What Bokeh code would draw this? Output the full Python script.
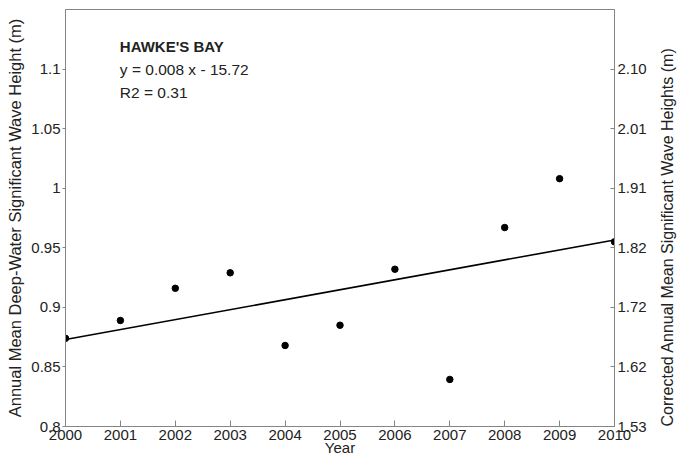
import numpy as np
from bokeh.plotting import figure
from bokeh.models import Range1d, LinearAxis, FixedTicker, Label, ColumnDataSource
from bokeh.embed import file_html
from bokeh.resources import INLINE

# ---- data ----
years = [2000, 2001, 2002, 2003, 2004, 2005, 2006, 2007, 2008, 2009, 2010]
wave_height = [0.874, 0.889, 0.916, 0.929, 0.868, 0.885, 0.932, 0.8395, 0.967, 1.008, 0.955]
left_ticks = [0.8, 0.85, 0.9, 0.95, 1.0, 1.05, 1.1]
right_tick_labels = ["1.53", "1.62", "1.72", "1.82", "1.91", "2.01", "2.10"]
x_ticks = years
title_text = "HAWKE'S BAY"
eq_text = "y = 0.008 x - 15.72"
r2_text = "R2 = 0.31"
x_label = "Year"
left_label = "Annual Mean Deep-Water Significant Wave Height (m)"
right_label = "Corrected Annual Mean Significant Wave Heights (m)"

FONT = "Liberation Sans"
AX = "#858585"
TXT = "#222222"
FS = "15px"
FW, FH = 549, 417

slope, intercept = np.polyfit(years, wave_height, 1)
fit_x = [years[0], years[-1]]
fit_y = [slope * v + intercept for v in fit_x]

p = figure(frame_width=FW, frame_height=FH, output_backend="svg", toolbar_location=None,
           x_range=Range1d(2000, 2010), y_range=Range1d(0.8, 1.15),
           min_border_left=65, min_border_right=10, min_border_top=9, min_border_bottom=10)
p.grid.visible = False
p.outline_line_color = AX
p.outline_line_width = 1
p.background_fill_color = "white"
p.border_fill_color = "white"

# x axis
xa = p.xaxis[0]
xa.ticker = FixedTicker(ticks=x_ticks)
xa.major_tick_in = 6
xa.major_tick_out = 0
xa.minor_tick_line_color = None
xa.axis_line_color = AX
xa.major_tick_line_color = AX
xa.major_label_text_font = FONT
xa.major_label_text_font_size = FS
xa.major_label_text_color = TXT
xa.major_label_standoff = 3
xa.axis_label = x_label
xa.axis_label_text_font = FONT
xa.axis_label_text_font_size = FS
xa.axis_label_text_font_style = "normal"
xa.axis_label_text_color = TXT
xa.axis_label_standoff = -4

# left y axis
ya = p.yaxis[0]
ya.ticker = FixedTicker(ticks=left_ticks)
ya.major_tick_in = 0
ya.major_tick_out = 3
ya.minor_tick_line_color = None
ya.axis_line_color = AX
ya.major_tick_line_color = AX
ya.major_label_text_font = FONT
ya.major_label_text_font_size = FS
ya.major_label_text_color = TXT
ya.major_label_standoff = 2
ya.axis_label = left_label
ya.axis_label_text_font = FONT
ya.axis_label_text_font_size = "16.5px"
ya.axis_label_text_font_style = "normal"
ya.axis_label_text_color = TXT
ya.axis_label_standoff = 4

# right y axis
ra = LinearAxis(ticker=FixedTicker(ticks=left_ticks),
                major_label_overrides={t: l for t, l in zip(left_ticks, right_tick_labels)})
ra.major_tick_in = 4
ra.major_tick_out = 0
ra.minor_tick_line_color = None
ra.axis_line_color = AX
ra.major_tick_line_color = AX
ra.major_label_text_font = FONT
ra.major_label_text_font_size = FS
ra.major_label_text_color = TXT
ra.major_label_standoff = 3
ra.axis_label = right_label
ra.axis_label_orientation = np.pi / 2
ra.axis_label_text_font = FONT
ra.axis_label_text_font_size = "16px"
ra.axis_label_text_font_style = "normal"
ra.axis_label_text_color = TXT
ra.axis_label_standoff = 18
if "axis_label_align" in ra.properties():
    ra.axis_label_align = "start"
p.add_layout(ra, "right")

# fit line and points
p.line(fit_x, fit_y, line_color="black", line_width=1.6)
src = ColumnDataSource(dict(x=years, y=wave_height))
p.scatter("x", "y", source=src, size=6.5, fill_color="black", line_color="black")

# annotations
p.add_layout(Label(x=2000.99, y=1.119, text=title_text, text_font=FONT, text_font_size=FS,
                   text_font_style="bold", text_color=TXT, text_baseline="middle"))
p.add_layout(Label(x=2000.99, y=1.0996, text=eq_text, text_font=FONT, text_font_size="15.5px",
                   text_color=TXT, text_baseline="middle"))
p.add_layout(Label(x=2000.99, y=1.0803, text=r2_text, text_font=FONT, text_font_size="15.5px",
                   text_color=TXT, text_baseline="middle"))

open("out.html", "w").write(file_html(p, INLINE))
